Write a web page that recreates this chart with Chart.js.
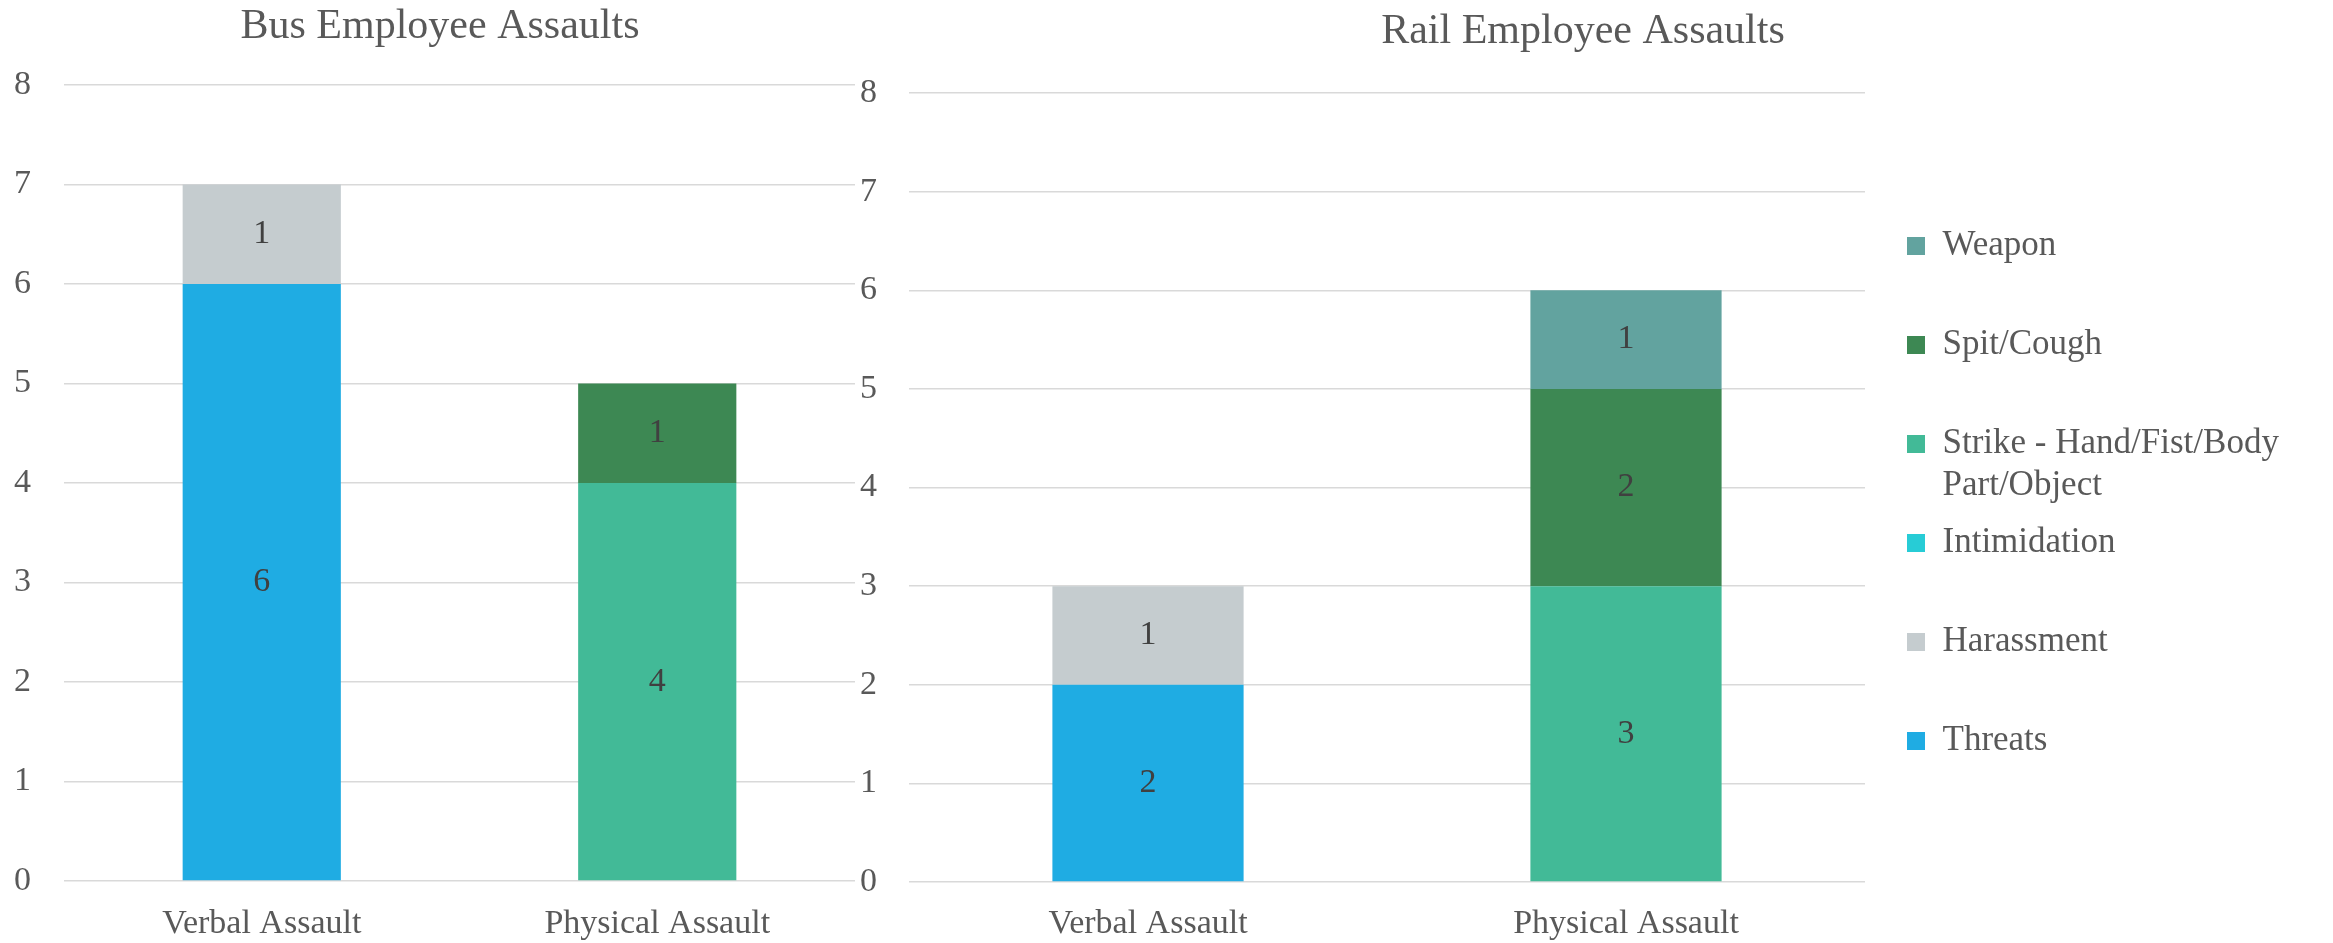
<!DOCTYPE html>
<html lang="en">
<head>
    <meta charset="UTF-8">
    <title>Employee Assaults</title>
    <script src="https://cdn.jsdelivr.net/npm/chart.js"></script>
    <style>
        * { margin: 0; padding: 0; box-sizing: border-box; }
        body { background: #ffffff; width: 2333px; height: 943px; position: relative; overflow: hidden; }
        #busChart { position: absolute; left: 0; top: 0; }
        #railChart { position: absolute; left: 850px; top: 0; }
    </style>
</head>
<body>
    <canvas id="busChart" width="880" height="943"></canvas>
    <canvas id="railChart" width="1466" height="943"></canvas>

    <script>
        // data
        const categories = ['Verbal Assault', 'Physical Assault'];
        const seriesNames = ['Threats', 'Harassment', 'Intimidation', 'Strike - Hand/Fist/Body Part/Object', 'Spit/Cough', 'Weapon'];
        const seriesColors = ['#1FACE3', '#C5CCCF', '#27CCD6', '#42BA97', '#3D8853', '#62A39F'];
        const busValues = [[6, 0], [1, 0], [0, 0], [0, 4], [0, 1], [0, 0]];
        const railValues = [[2, 0], [1, 0], [0, 0], [0, 3], [0, 2], [0, 1]];
        const yMin = 0, yMax = 8, yStep = 1;

        // legend text that wraps onto two lines
        const legendWrap = {
            'Strike - Hand/Fist/Body Part/Object': ['Strike - Hand/Fist/Body', 'Part/Object']
        };

        const FONT = "'Liberation Serif', 'Times New Roman', serif";
        const TEXT = '#595959';

        // values printed in the middle of each stacked piece
        const valueLabels = {
            id: 'valueLabels',
            afterDatasetsDraw(chart) {
                const ctx = chart.ctx;
                ctx.save();
                ctx.font = '34px ' + FONT;
                ctx.fillStyle = '#404040';
                ctx.textAlign = 'center';
                ctx.textBaseline = 'middle';
                chart.data.datasets.forEach((ds, i) => {
                    chart.getDatasetMeta(i).data.forEach((bar, j) => {
                        const v = ds.data[j];
                        if (!v) return;
                        ctx.fillText(v, bar.x, (bar.y + bar.base) / 2);
                    });
                });
                ctx.restore();
            }
        };

        // legend: fixed width, nudged left, second line for the wrapped item
        const legendWidth = 451;
        const legendShift = -22;
        const legendTweaks = {
            id: 'legendTweaks',
            beforeLayout(chart) {
                const lg = chart.legend;
                if (!lg || lg._patched) return;
                const fit = lg.fit;
                lg.fit = function () {
                    fit.call(this);
                    this.width = legendWidth;
                };
                lg._patched = true;
            },
            afterLayout(chart) {
                const lg = chart.legend;
                if (!lg) return;
                lg.left += legendShift;
                lg.right += legendShift;
            },
            afterDraw(chart) {
                const lg = chart.legend;
                if (!lg || !lg.legendItems) return;
                const opts = lg.options.labels;
                const size = opts.font.size;
                const ctx = chart.ctx;
                lg.legendItems.forEach((item, i) => {
                    const full = Object.keys(legendWrap).find(k => legendWrap[k][0] === item.text);
                    if (!full) return;
                    const box = lg.legendHitBoxes[i];
                    ctx.save();
                    ctx.font = size + 'px ' + FONT;
                    ctx.fillStyle = TEXT;
                    ctx.textAlign = 'left';
                    ctx.textBaseline = 'middle';
                    legendWrap[full].slice(1).forEach((line, k) => {
                        ctx.fillText(line, box.left + opts.boxWidth + size / 2, box.top + size / 2 + (k + 1) * size * 1.2);
                    });
                    ctx.restore();
                });
            }
        };

        function makeDatasets(values) {
            return seriesNames.map((name, i) => ({
                label: name,
                data: values[i],
                backgroundColor: seriesColors[i],
                borderWidth: 0,
                barPercentage: 0.4,
                categoryPercentage: 1.0
            }));
        }

        function makeChart(id, title, values, cfg) {
            const scales = {
                x: {
                    stacked: true,
                    grid: { display: false },
                    border: { display: false },
                    ticks: { color: TEXT, font: { family: FONT, size: 34 }, padding: cfg.xPad },
                    afterFit: s => { s.height = cfg.xHeight; }
                },
                y: {
                    stacked: true,
                    min: yMin,
                    max: yMax,
                    grid: { color: '#D9D9D9', lineWidth: 1.5, drawTicks: false },
                    border: { display: false },
                    ticks: { stepSize: yStep, color: TEXT, font: { family: FONT, size: 34 }, padding: cfg.yPad },
                    afterFit: s => { s.width = cfg.yWidth; }
                }
            };
            if (cfg.rightGap) {
                scales.gap = {
                    type: 'linear',
                    position: 'right',
                    grid: { display: false },
                    border: { display: false },
                    ticks: { display: false },
                    afterFit: s => { s.width = cfg.rightGap; }
                };
            }
            return new Chart(document.getElementById(id), {
                type: 'bar',
                data: { labels: categories, datasets: makeDatasets(values) },
                options: {
                    responsive: false,
                    animation: false,
                    layout: { padding: 0 },
                    scales: scales,
                    plugins: {
                        title: {
                            display: true,
                            text: title,
                            color: TEXT,
                            font: { family: FONT, size: 42, weight: 'normal', lineHeight: 1.0 },
                            padding: { top: cfg.titleTop, bottom: cfg.titleBottom }
                        },
                        legend: {
                            display: cfg.legend,
                            position: 'right',
                            reverse: true,
                            title: {
                                display: true,
                                text: ' ',
                                font: { size: 10, lineHeight: 1.0 },
                                padding: { top: 34, bottom: 0 }
                            },
                            labels: {
                                color: TEXT,
                                font: { family: FONT, size: 35 },
                                boxWidth: 18,
                                boxHeight: 18,
                                padding: 64,
                                generateLabels(chart) {
                                    const items = Chart.defaults.plugins.legend.labels.generateLabels(chart);
                                    items.forEach(it => {
                                        if (legendWrap[it.text]) it.text = legendWrap[it.text][0];
                                    });
                                    return items;
                                }
                            }
                        },
                        tooltip: { enabled: false }
                    }
                },
                plugins: cfg.legend ? [valueLabels, legendTweaks] : [valueLabels]
            });
        }

        makeChart('busChart', 'Bus Employee Assaults', busValues, {
            legend: false, titleTop: 6, titleBottom: 37,
            xPad: 15, xHeight: 62, yPad: 33, yWidth: 64, rightGap: 25
        });

        makeChart('railChart', 'Rail Employee Assaults', railValues, {
            legend: true, titleTop: 11, titleBottom: 40,
            xPad: 14, xHeight: 61, yPad: 32, yWidth: 59, rightGap: 0
        });
    </script>
</body>
</html>
